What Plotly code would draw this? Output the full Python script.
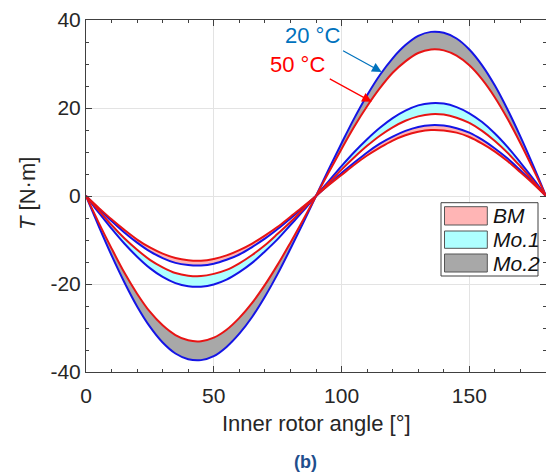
import plotly.graph_objects as go

# ---------------- data ----------------
angle = [0, 5, 10, 15, 20, 25, 30, 35, 40, 45, 50, 55, 60, 65, 70, 75, 80, 85, 90,
         95, 100, 105, 110, 115, 120, 125, 130, 135, 140, 145, 150, 155, 160, 165, 170, 175, 180]

# Mo.2
mo2_20 = [0, -6.9, -13.5, -19.6, -25.1, -29.7, -33.3, -35.8, -37.1, -37.3, -36.4, -34.3, -31.3, -27.5, -22.9, -17.7, -12.0, -6.1, 0,
          6.1, 12.0, 17.7, 22.9, 27.5, 31.3, 34.3, 36.4, 37.3, 37.1, 35.8, 33.3, 29.7, 25.1, 19.6, 13.5, 6.9, 0]
mo2_50 = [0, -6.1, -11.9, -17.4, -22.2, -26.3, -29.4, -31.6, -32.8, -33.0, -32.2, -30.4, -27.7, -24.3, -20.2, -15.6, -10.6, -5.4, 0,
          5.4, 10.7, 15.8, 20.4, 24.5, 28.0, 30.6, 32.5, 33.3, 33.1, 31.9, 29.7, 26.5, 22.4, 17.5, 12.0, 6.1, 0]
# Mo.1
mo1_20 = [0, -3.8, -7.4, -10.8, -13.8, -16.4, -18.4, -19.8, -20.5, -20.6, -20.1, -19.0, -17.3, -15.2, -12.6, -9.8, -6.6, -3.4, 0,
          3.4, 6.8, 10.0, 12.9, 15.5, 17.7, 19.4, 20.6, 21.1, 21.0, 20.2, 18.8, 16.8, 14.2, 11.1, 7.6, 3.9, 0]
mo1_50 = [0, -3.3, -6.6, -9.6, -12.2, -14.5, -16.2, -17.5, -18.1, -18.2, -17.7, -16.8, -15.3, -13.4, -11.2, -8.6, -5.9, -3.0, 0,
          3.0, 6.0, 8.8, 11.4, 13.7, 15.6, 17.1, 18.1, 18.6, 18.5, 17.8, 16.6, 14.8, 12.5, 9.8, 6.7, 3.4, 0]
# BM
bm_20 = [0, -2.9, -5.7, -8.3, -10.6, -12.6, -14.1, -15.2, -15.7, -15.8, -15.4, -14.5, -13.3, -11.6, -9.7, -7.5, -5.1, -2.6, 0,
         2.6, 5.2, 7.6, 9.9, 11.9, 13.5, 14.8, 15.7, 16.1, 16.0, 15.4, 14.4, 12.8, 10.8, 8.5, 5.8, 3.0, 0]
bm_50 = [0, -2.7, -5.3, -7.7, -9.9, -11.7, -13.1, -14.1, -14.6, -14.7, -14.3, -13.5, -12.3, -10.8, -9.0, -7.0, -4.7, -2.4, 0,
         2.5, 4.8, 7.1, 9.2, 11.0, 12.6, 13.8, 14.6, 15.0, 14.9, 14.4, 13.4, 11.9, 10.1, 7.9, 5.4, 2.8, 0]

series_names = ["BM", "Mo.1", "Mo.2"]
series_20 = [bm_20, mo1_20, mo2_20]
series_50 = [bm_50, mo1_50, mo2_50]
fill_colors = ["#FFB5B5", "#AEFFFF", "#A8A8A8"]

x_ticks = [0, 50, 100, 150]
y_ticks = [-40, -20, 0, 20, 40]
y_ticktext = ["-40", "-20", "0", "20", "40"]

BLUE = "#1414E6"
RED = "#E81414"
FONT = "Liberation Sans, Arial, sans-serif"

fig = go.Figure()
for name, y20, y50, fc in zip(series_names, series_20, series_50, fill_colors):
    fig.add_trace(go.Scatter(x=angle, y=y20, mode="lines", name=name + " 20 °C",
                             line=dict(color=BLUE, width=2, shape="spline"),
                             showlegend=False))
    fig.add_trace(go.Scatter(x=angle, y=y50, mode="lines", name=name + " 50 °C",
                             line=dict(color=RED, width=2, shape="spline"),
                             fill="tonexty", fillcolor=fc, showlegend=False))

axis_common = dict(
    ticks="inside", ticklen=6, tickcolor="#404040", tickwidth=1,
    showline=True, linecolor="#404040", linewidth=1, mirror="allticks",
    showgrid=True, gridcolor="#E3E3E3", gridwidth=1, zeroline=False,
    tickfont=dict(family=FONT, size=21, color="#262626"),
)
fig.update_xaxes(range=[0, 180], tickvals=x_ticks, ticktext=[str(v) for v in x_ticks],
                 ticklabelstandoff=5,
                 minor=dict(dtick=10, ticks="inside", ticklen=3, tickcolor="#404040", showgrid=False),
                 **axis_common)
fig.update_yaxes(range=[-40, 40], tickvals=y_ticks, ticktext=y_ticktext,
                 minor=dict(dtick=5, ticks="inside", ticklen=3, tickcolor="#404040", showgrid=False),
                 **axis_common)

L, R, T, B = 86, 0, 20, 102
W, H = 546, 474
PW, PH = W - L - R, H - T - B


def px(xp):
    return (xp - L) / PW


def py(yp):
    return (H - B - yp) / PH


annotations = []
# temperature labels and arrows
annotations.append(dict(x=88.6, y=36.4, xref="x", yref="y", text="20 °C", showarrow=False,
                        font=dict(family=FONT, size=22, color="#0072BD")))
annotations.append(dict(x=82.9, y=29.8, xref="x", yref="y", text="50 °C", showarrow=False,
                        font=dict(family=FONT, size=22, color="#FF0000")))
annotations.append(dict(x=115.7, y=28.2, ax=100.0, ay=33.2, xref="x", yref="y", axref="x", ayref="y",
                        text="", showarrow=True, arrowhead=2, arrowsize=1.6, arrowwidth=1.2,
                        arrowcolor="#0072BD"))
annotations.append(dict(x=111.8, y=21.4, ax=94.8, ay=26.8, xref="x", yref="y", axref="x", ayref="y",
                        text="", showarrow=True, arrowhead=2, arrowsize=1.6, arrowwidth=1.2,
                        arrowcolor="#FF0000"))
# axis titles
annotations.append(dict(x=px(316), y=py(423), xref="paper", yref="paper", text="Inner rotor angle [°]",
                        showarrow=False, xanchor="center", yanchor="middle",
                        font=dict(family=FONT, size=22, color="#262626")))
annotations.append(dict(x=px(28), y=py(194), xref="paper", yref="paper", text="<i>T</i> [N·m]",
                        showarrow=False, xanchor="center", yanchor="middle", textangle=-90,
                        font=dict(family=FONT, size=22, color="#262626")))
annotations.append(dict(x=px(305), y=py(461.5), xref="paper", yref="paper", text="<b>(b)</b>",
                        showarrow=False, xanchor="center", yanchor="middle",
                        font=dict(family=FONT, size=18, color="#1F4E8C")))

# manual legend (MATLAB style patches)
shapes = [dict(type="rect", xref="paper", yref="paper", x0=px(441), x1=px(538), y0=py(276), y1=py(202.7),
               line=dict(color="#404040", width=1), fillcolor="white", layer="above")]
patch_rows = [(206.7, 225), (231, 248.3), (254, 272)]
for (top, bot), fc, name in zip(patch_rows, fill_colors, series_names):
    shapes.append(dict(type="rect", xref="paper", yref="paper", x0=px(444.5), x1=px(487.3),
                       y0=py(bot), y1=py(top), line=dict(color="#555555", width=1),
                       fillcolor=fc, layer="above"))
    annotations.append(dict(x=px(490.5), y=py((top + bot) / 2), xref="paper", yref="paper",
                            text="<i>" + name + "</i>", showarrow=False, xanchor="left", yanchor="middle",
                            font=dict(family=FONT, size=21, color="#111111")))

fig.update_layout(
    width=W, height=H,
    margin=dict(l=L, r=R, t=T, b=B, pad=0),
    paper_bgcolor="white", plot_bgcolor="white",
    showlegend=False,
    annotations=annotations, shapes=shapes,
    font=dict(family=FONT),
)

fig.write_html("out.html")
